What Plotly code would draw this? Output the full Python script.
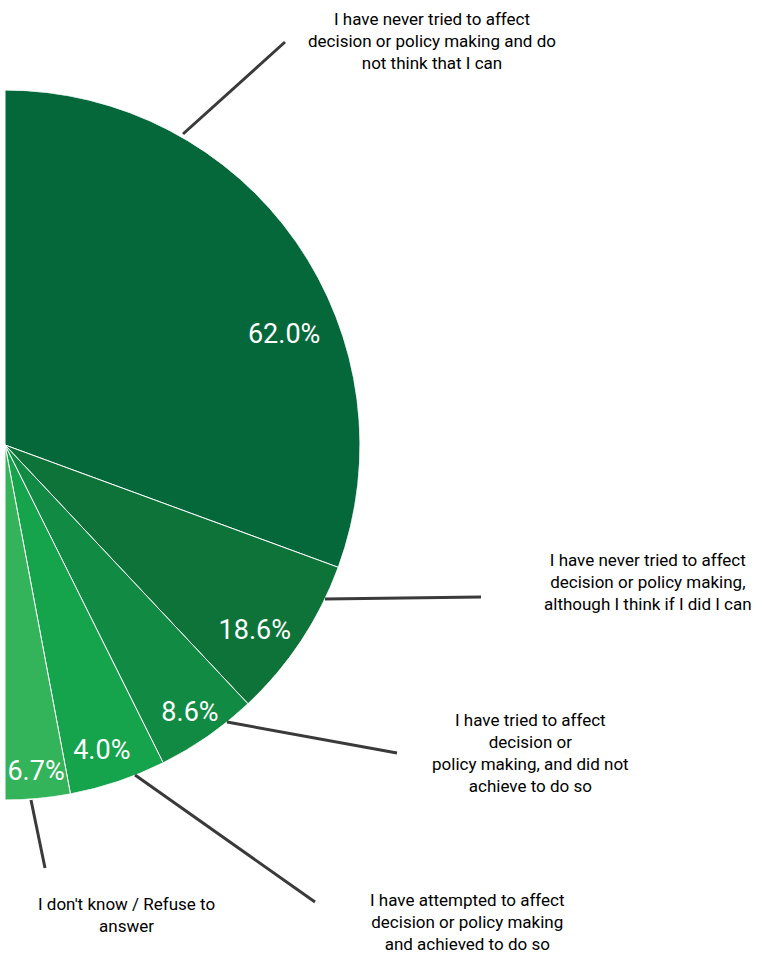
import plotly.graph_objects as go

# ---- data ----
categories = [
    "I have never tried to affect<br>decision or policy making and do<br>not think that I can",
    "I have never tried to affect<br>decision or policy making,<br>although I think if I did I can",
    "I have tried to affect<br>decision or<br>policy making, and did not<br>achieve to do so",
    "I have attempted to affect<br>decision or policy making<br>and achieved to do so",
    "I don't know / Refuse to<br>answer",
]
# printed percentage labels
pct_labels = ["62.0%", "18.6%", "8.6%", "4.0%", "6.7%"]
# slice sizes as drawn in the picture (share of the half circle, %)
slice_share = [61.2, 14.8, 9.3, 8.8, 5.9]
colors = ["#05683a", "#0e7339", "#118a43", "#15a34b", "#33b35a"]

W, H = 769, 958
FONT = "Roboto"

# half pie: 100% spans 180 degrees
total = sum(slice_share)
widths = [v / total * 180 for v in slice_share]
mids = []
acc = 0
for w in widths:
    mids.append(acc + w / 2)
    acc += w

fig = go.Figure()
fig.add_trace(go.Barpolar(
    r=[1] * len(slice_share), theta=mids, width=widths,
    marker=dict(color=colors, line=dict(color="white", width=1)),
    hoverinfo="skip", showlegend=False,
))

# inner percentage labels (polar positions)
lab_r = [0.844, 0.88, 0.92, 0.907, 0.93]
lab_t = [68.7, 126.9, 145.5, 162.5, 174.6]
fig.add_trace(go.Scatterpolar(
    r=lab_r, theta=lab_t, mode="text", text=pct_labels,
    textfont=dict(color="white", size=27, family=FONT),
    cliponaxis=False, hoverinfo="skip", showlegend=False,
))


def px(x):
    return x / W


def py(y):
    return 1 - y / H


fig.update_layout(
    width=W, height=H,
    margin=dict(l=0, r=0, t=0, b=0),
    paper_bgcolor="white", plot_bgcolor="white",
    polar=dict(
        domain=dict(x=[px(5), px(360)], y=[py(800), py(90)]),
        sector=[-90, 90], hole=0, bgcolor="rgba(0,0,0,0)",
        radialaxis=dict(visible=False, range=[0, 1]),
        angularaxis=dict(visible=False, rotation=90, direction="clockwise"),
    ),
)

# leader lines
leaders = [
    ((183, 134), (285, 42)),
    ((325, 599), (481, 597)),
    ((227, 722), (397, 753)),
    ((135, 775), (315, 902)),
    ((31, 800), (45, 868)),
]
for (x0, y0), (x1, y1) in leaders:
    fig.add_shape(type="line", xref="paper", yref="paper",
                  x0=px(x0), y0=py(y0), x1=px(x1), y1=py(y1),
                  line=dict(color="#3a3a3a", width=3))

# outer labels
label_pos = [(432, 41), (648, 582), (530, 753), (467, 922), (126, 915)]
for txt, (x, y) in zip(categories, label_pos):
    fig.add_annotation(text=txt, xref="paper", yref="paper",
                       x=px(x), y=py(y), xanchor="center", yanchor="middle",
                       showarrow=False, align="center",
                       font=dict(size=17, color="#000000", family=FONT))

fig.write_html("out.html",
               config={"displayModeBar": False},
               post_script="document.body.style.margin='0px';")
